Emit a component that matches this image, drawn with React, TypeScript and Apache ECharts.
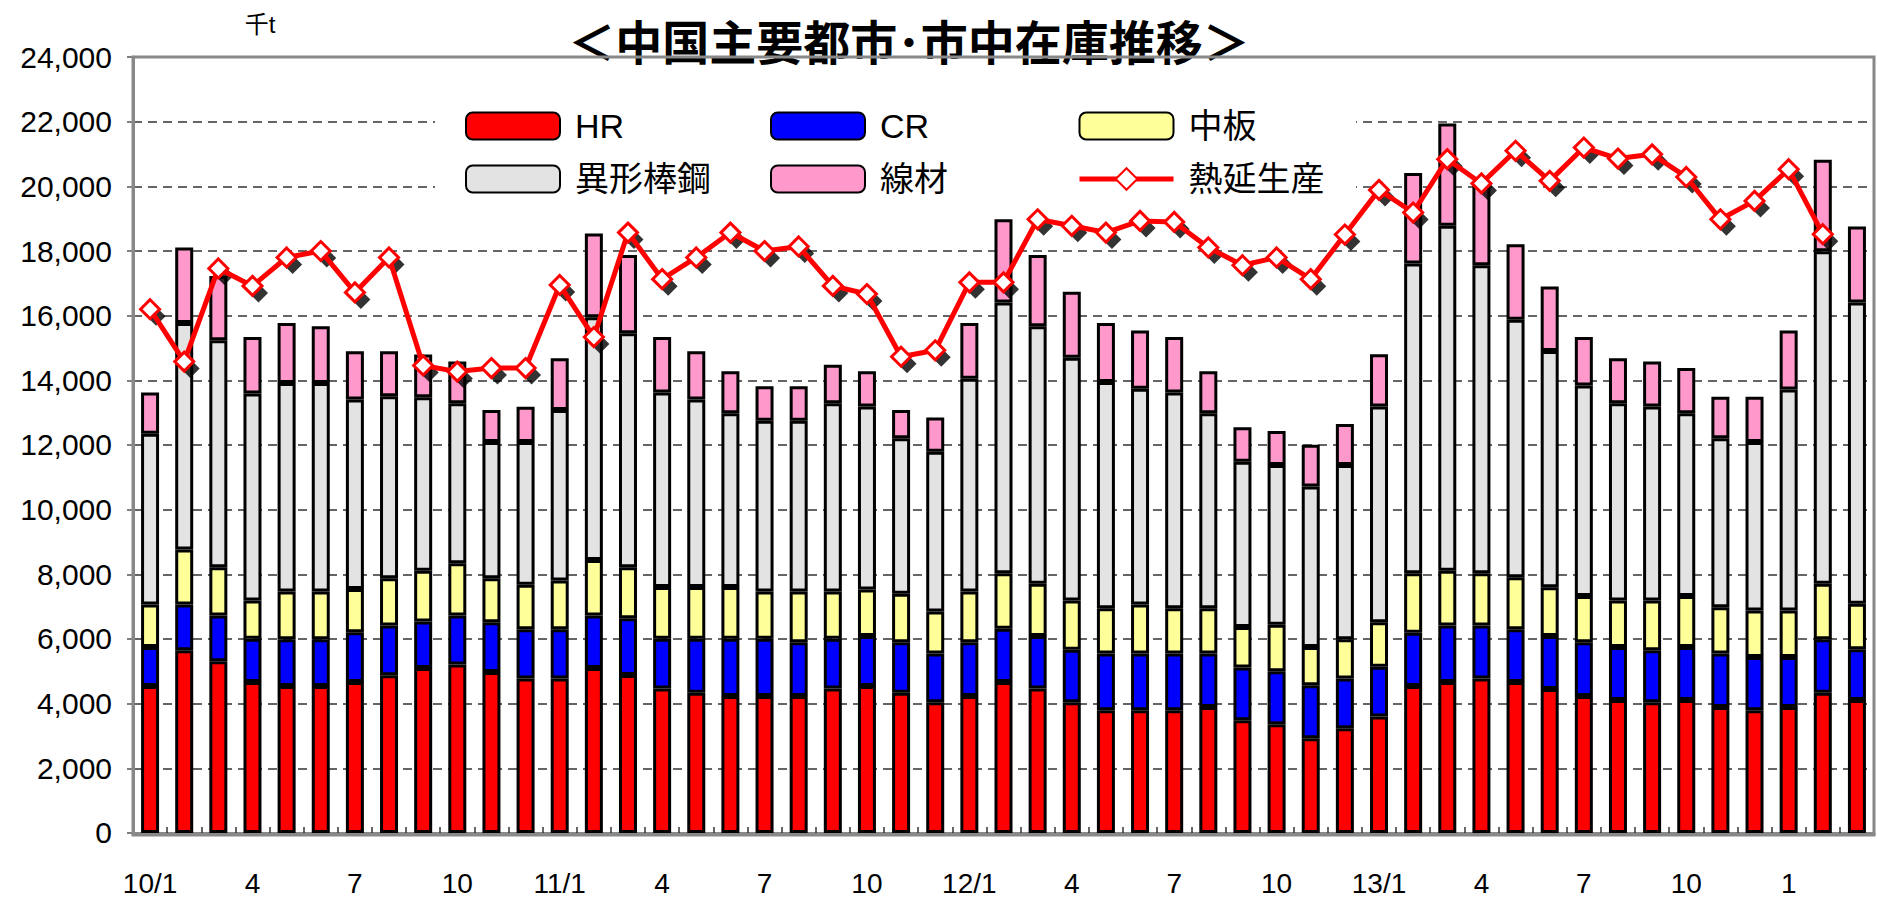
import React, { useEffect, useRef } from "react";
import * as echarts from "echarts";

const categories = [
  "10/1", "2", "3", "4", "5", "6", "7", "8", "9", "10", "11", "12",
  "11/1", "2", "3", "4", "5", "6", "7", "8", "9", "10", "11", "12",
  "12/1", "2", "3", "4", "5", "6", "7", "8", "9", "10", "11", "12",
  "13/1", "2", "3", "4", "5", "6", "7", "8", "9", "10", "11", "12",
  "1", "2", "3",
];

const hr = [
  4550, 5650, 5310, 4670, 4550, 4550, 4670, 4880, 5100, 5210, 4980, 4780,
  4780, 5100, 4890, 4470, 4340, 4240, 4240, 4240, 4470, 4550, 4340, 4040,
  4240, 4670, 4470, 4040, 3800, 3800, 3800, 3900, 3490, 3360, 2930, 3240,
  3600, 4550, 4670, 4780, 4670, 4450, 4240, 4110, 4040, 4110, 3900, 3800,
  3900, 4340, 4110,
];

const cr = [
  1200, 1420, 1420, 1340, 1440, 1440, 1540, 1540, 1440, 1520, 1540, 1520,
  1520, 1630, 1750, 1540, 1670, 1770, 1770, 1660, 1540, 1540, 1560, 1510,
  1660, 1650, 1620, 1630, 1750, 1750, 1750, 1650, 1630, 1640, 1640, 1540,
  1540, 1640, 1750, 1640, 1630, 1640, 1660, 1640, 1610, 1640, 1650, 1640,
  1540, 1650, 1570,
];

const plate = [
  1320, 1700, 1490, 1180, 1480, 1480, 1340, 1460, 1570, 1610, 1360, 1380,
  1510, 1710, 1580, 1600, 1600, 1600, 1460, 1570, 1460, 1440, 1500, 1300,
  1570, 1710, 1620, 1520, 1400, 1520, 1400, 1400, 1250, 1440, 1180, 1210,
  1380, 1840, 1690, 1610, 1610, 1510, 1430, 1440, 1540, 1580, 1430, 1440,
  1440, 1720, 1410,
];

const rebar = [
  5280, 7000, 7020, 6400, 6450, 6450, 5860, 5630, 5370, 4950, 4210, 4410,
  5270, 7510, 7240, 6010, 5800, 5370, 5280, 5280, 5820, 5660, 4810, 4940,
  6580, 8380, 7960, 7510, 7000, 6670, 6670, 6030, 5110, 4940, 4970, 5390,
  6670, 9580, 10670, 9530, 7960, 7310, 6510, 6100, 6000, 5650, 5230, 5210,
  6840, 10280, 9320,
];

const wire = [
  1270, 2340, 1990, 1750, 1850, 1750, 1490, 1390, 1320, 1290, 990, 1090,
  1600, 2590, 2420, 1720, 1490, 1300, 1070, 1070, 1190, 1090, 870, 1060,
  1720, 2570, 2210, 2040, 1820, 1800, 1720, 1300, 1070, 1050, 1290, 1270,
  1620, 2800, 3160, 2540, 2340, 1990, 1500, 1390, 1390, 1400, 1280, 1400,
  1820, 2830, 2350,
];

const hotRolled = [
  16200, 14580, 17460, 16920, 17800, 18000, 16720, 17800, 14460, 14270, 14380, 14380,
  16950, 15340, 18570, 17130, 17800, 18570, 18000, 18140, 16920, 16670, 14730, 14930,
  17030, 17030, 18980, 18780, 18570, 18930, 18900, 18110, 17560, 17800, 17130, 18510,
  19890, 19190, 20840, 20090, 21100, 20170, 21200, 20860, 20990, 20290, 18980, 19550,
  20530, 18520, null,
];

const FONT = "'Liberation Sans', Arial, 'Noto Sans CJK JP', sans-serif";

export default function App() {
  const ref = useRef<HTMLDivElement>(null);

  useEffect(() => {
    if (!ref.current) return;
    const chart = echarts.init(ref.current, undefined, { renderer: "svg" });

    const barSeries = (name: string, data: number[], color: string) => ({
      name,
      type: "bar",
      stack: "total",
      data,
      barWidth: 18,
      itemStyle: { color, borderColor: "#000", borderWidth: 3 },
      z: 2,
    });

    const legendCommon = {
      orient: "vertical",
      top: 109,
      itemWidth: 94,
      itemHeight: 27,
      itemGap: 19,
      padding: 0,
      selectedMode: false,
      lineStyle: { width: 5, color: "#FF0000" },
      textStyle: {
        fontSize: 34,
        color: "#000",
        fontFamily: FONT,
        padding: [0, 0, 0, 10],
      },
    };

    chart.setOption({
      animation: false,
      backgroundColor: "#fff",
      textStyle: { fontFamily: FONT },
      title: {
        text: "＜中国主要都市･市中在庫推移＞",
        left: 904,
        top: 11,
        textAlign: "center",
        textStyle: {
          fontSize: 47,
          fontWeight: "bold",
          color: "#000",
          fontFamily: "'Noto Sans CJK JP', sans-serif",
        },
      },
      legend: [
        { ...legendCommon, left: 465, data: ["HR", "異形棒鋼"] },
        { ...legendCommon, left: 770, data: ["CR", "線材"] },
        { ...legendCommon, left: 1077, data: ["中板", "熱延生産"] },
      ],
      grid: { left: 133, right: 3, top: 57, bottom: 62, containLabel: false },
      xAxis: {
        type: "category",
        data: categories,
        axisLine: { show: true, lineStyle: { color: "#888", width: 3 } },
        axisTick: {
          show: true,
          inside: true,
          interval: 0,
          length: 6,
          lineStyle: { color: "#333", width: 1.5 },
        },
        axisLabel: {
          interval: 2,
          fontSize: 28,
          margin: 36,
          color: "#000",
          fontFamily: FONT,
        },
      },
      yAxis: {
        type: "value",
        min: 0,
        max: 24000,
        interval: 2000,
        axisLine: { show: true, lineStyle: { color: "#888", width: 3 } },
        axisTick: { show: true, length: 6, lineStyle: { color: "#555", width: 1.5 } },
        axisLabel: {
          fontSize: 30,
          color: "#000",
          margin: 21,
          fontFamily: FONT,
          formatter: (v: number) => v.toLocaleString("en-US"),
        },
        splitLine: {
          show: true,
          lineStyle: { color: "#333", type: [9, 6], width: 1.5 },
        },
      },
      graphic: [
        {
          type: "rect",
          z: 1,
          silent: true,
          shape: { x: 435, y: 98, width: 921, height: 104 },
          style: { fill: "#fff" },
        },
        {
          type: "rect",
          z: 10,
          silent: true,
          shape: { x: 133, y: 57, width: 1741, height: 778 },
          style: { fill: "none", stroke: "#888", lineWidth: 3 },
        },
        {
          type: "text",
          x: 260,
          y: 24,
          silent: true,
          style: {
            text: "千t",
            fontSize: 24,
            fill: "#000",
            fontFamily: FONT,
            align: "center",
            verticalAlign: "middle",
            textAlign: "center",
            textVerticalAlign: "middle",
          },
        },
      ],
      series: [
        barSeries("HR", hr, "#FF0000"),
        barSeries("CR", cr, "#0000FF"),
        barSeries("中板", plate, "#FFFF99"),
        barSeries("異形棒鋼", rebar, "#E3E3E3"),
        barSeries("線材", wire, "#FF99CC"),
        {
          name: "shadow",
          type: "scatter",
          data: hotRolled,
          symbol: "diamond",
          symbolSize: 19,
          symbolOffset: [6, 7],
          itemStyle: { color: "#000" },
          silent: true,
          z: 3,
        },
        {
          name: "熱延生産",
          type: "line",
          data: hotRolled,
          symbol: "diamond",
          symbolSize: 19,
          showAllSymbol: true,
          lineStyle: { color: "#FF0000", width: 5 },
          itemStyle: { color: "#FFFFFF", borderColor: "#FF0000", borderWidth: 3 },
          z: 4,
        },
      ],
    });

    return () => chart.dispose();
  }, []);

  return (
    <div
      ref={ref}
      style={{ position: "absolute", left: 0, top: 0, width: 1877, height: 897 }}
    />
  );
}
